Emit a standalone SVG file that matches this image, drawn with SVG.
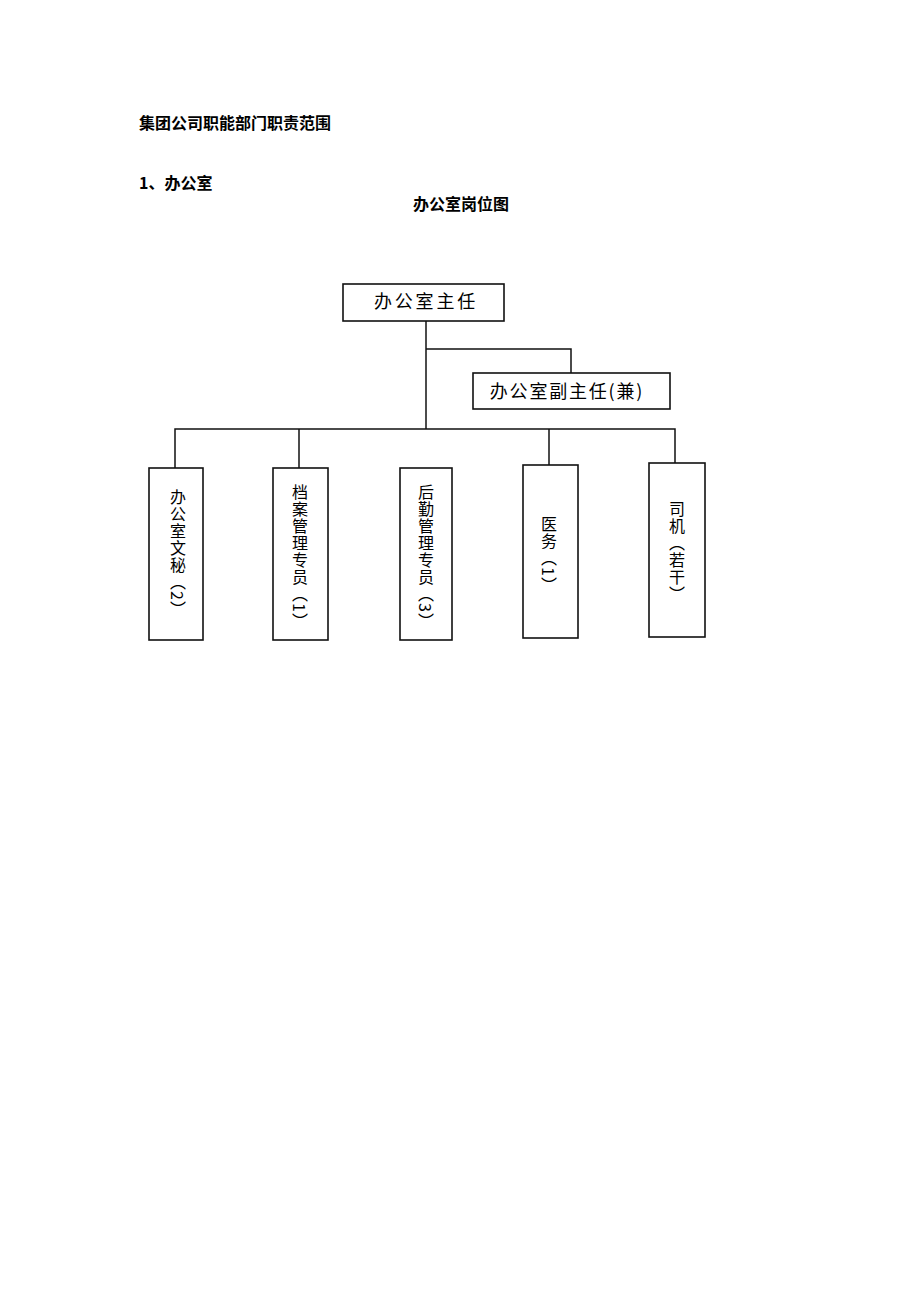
<svg xmlns="http://www.w3.org/2000/svg" width="920" height="1302" viewBox="0 0 920 1302">
<style>
.hd{font-family:"Noto Sans CJK SC","Noto Sans",sans-serif;font-size:16px;font-weight:bold;fill:#000}
.bx{fill:#fff;stroke:#111;stroke-width:1.6}
.ln{fill:none;stroke:#111;stroke-width:1.5}
.t{font-family:"Noto Sans CJK SC","Noto Sans",sans-serif;font-size:18px;fill:#000}
.v{font-family:"Noto Sans CJK SC","Noto Sans",sans-serif;font-size:16px;fill:#000;writing-mode:vertical-rl;letter-spacing:1px}
</style>
<rect width="920" height="1302" fill="#fff"/>
<text class="hd" x="139" y="129">集团公司职能部门职责范围</text>
<text class="hd" x="139" y="189">1、办公室</text>
<text class="hd" x="413" y="210">办公室岗位图</text>
<g id="connectors">
<path class="ln" d="M426 321V429"/>
<path class="ln" d="M426 349H571V373"/>
<path class="ln" d="M175 468V429H675V463"/>
<path class="ln" d="M299 429V468"/>
<path class="ln" d="M549 429V465"/>
</g>
<g id="n_director">
<rect class="bx" x="343" y="284" width="161" height="37"/>
<text class="t" x="426" y="308" text-anchor="middle" letter-spacing="2.8">办公室主任</text>
</g>
<g id="n_deputy">
<rect class="bx" x="473" y="373" width="197" height="36"/>
<text class="t" x="567" y="398" text-anchor="middle" letter-spacing="1.8">办公室副主任(兼)</text>
</g>
<g id="n_sec">
<rect class="bx" x="149" y="468" width="54" height="172"/>
<text class="v" x="178" y="489">办公室文秘（2）</text>
</g>
<g id="n_archive">
<rect class="bx" x="273" y="468" width="55" height="172"/>
<text class="v" x="300" y="484">档案管理专员（1）</text>
</g>
<g id="n_logistics">
<rect class="bx" x="400" y="468" width="52" height="172"/>
<text class="v" x="426" y="484">后勤管理专员（3）</text>
</g>
<g id="n_medical">
<rect class="bx" x="523" y="465" width="55" height="173"/>
<text class="v" x="549" y="516">医务（1）</text>
</g>
<g id="n_driver">
<rect class="bx" x="649" y="463" width="56" height="174"/>
<text class="v" x="677" y="501">司机（若干）</text>
</g>
</svg>
